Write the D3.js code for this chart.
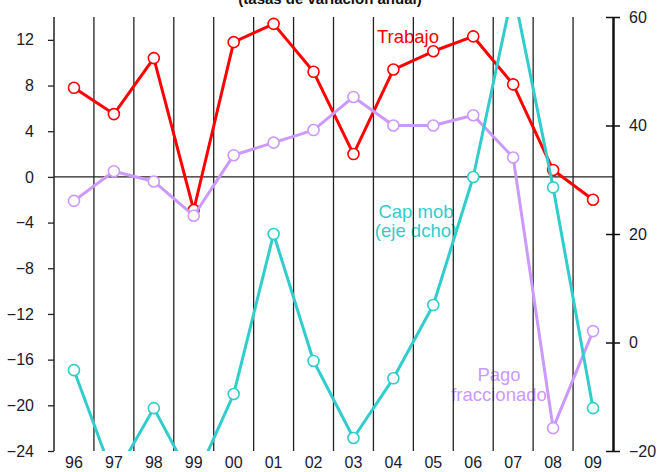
<!DOCTYPE html>
<html>
<head>
<meta charset="utf-8">
<script src="https://cdn.jsdelivr.net/npm/d3@7"></script>
<style>
  body { margin: 0; background: #fff; }
  svg { font-family: "Liberation Sans", Arial, sans-serif; }
</style>
</head>
<body>
<div id="chart"></div>
<script>
// datos
const years = ['96', '97', '98', '99', '00', '01', '02', '03', '04', '05', '06', '07', '08', '09'];
const trabajo = [7.8, 5.5, 10.4, -2.9, 11.8, 13.4, 9.2, 2.0, 9.4, 11.0, 12.3, 8.1, 0.6, -2.0];
const pagoFrac = [-2.1, 0.5, -0.4, -3.4, 1.9, 3.0, 4.1, 7.0, 4.5, 4.5, 5.4, 1.7, -22.0, -13.5];
const capMob = [-5.1, -25, -12.1, -25.9, -9.5, 20.0, -3.4, -17.6, -6.6, 6.9, 30.5, 65, 28.6, -12.1];
const leftTicks = [12, 8, 4, 0, -4, -8, -12, -16, -20, -24];
const rightTicks = [60, 40, 20, 0, -20];

const width = 658, height = 472;
const plotL = 54, plotR = 613, plotT = 17, plotB = 451;
const tickFont = 16, labelFont = 18.5;

const svg = d3.select('#chart').append('svg')
  .attr('width', width).attr('height', height);

const x = d3.scaleBand().domain(years).range([plotL, plotR]);
const yL = d3.scaleLinear().domain([-24, 14]).range([plotB, plotT]);
const yR = d3.scaleLinear().domain([-20, 60]).range([plotB, plotT]);

svg.append('defs').append('clipPath').attr('id', 'plot')
  .append('rect').attr('x', plotL).attr('y', plotT)
  .attr('width', plotR - plotL).attr('height', plotB - plotT);

// titulo (cortado arriba, como en el original)
svg.append('text')
  .attr('x', 330).attr('y', 4)
  .attr('text-anchor', 'middle')
  .attr('font-size', 15).attr('font-weight', 'bold')
  .attr('fill', '#111')
  .text('(tasas de variación anual)');

// etiquetas de series (debajo de la rejilla)
const labels = [
  {t: 'Trabajo', x: 408, y: 43, c: '#ff0000'},
  {t: 'Cap mob', x: 416, y: 218, c: '#33cccc'},
  {t: '(eje dcho)', x: 416, y: 237, c: '#33cccc'},
  {t: 'Pago', x: 499, y: 381, c: '#cc99ff'},
  {t: 'fraccionado', x: 499, y: 401, c: '#cc99ff'},
];
svg.append('g').selectAll('text').data(labels).join('text')
  .attr('x', d => d.x).attr('y', d => d.y)
  .attr('text-anchor', 'middle')
  .attr('font-size', labelFont)
  .attr('fill', d => d.c)
  .text(d => d.t);

// rejilla vertical entre categorias
svg.append('g').selectAll('line').data(years.slice(1)).join('line')
  .attr('x1', d => x(d)).attr('x2', d => x(d))
  .attr('y1', plotT).attr('y2', plotB)
  .attr('stroke', '#222').attr('stroke-width', 1.3);

// linea de cero
svg.append('line')
  .attr('x1', plotL).attr('x2', plotR)
  .attr('y1', yL(0)).attr('y2', yL(0))
  .attr('stroke', '#222').attr('stroke-width', 1.3);

// eje izquierdo
const axL = svg.append('g').attr('transform', `translate(${plotL},0)`)
  .call(d3.axisLeft(yL).tickValues(leftTicks).tickSize(6).tickSizeOuter(0).tickPadding(14));
axL.select('.domain').attr('stroke', '#222').attr('stroke-width', 1.5)
  .attr('d', `M0,${plotT}V${plotB}`);
axL.selectAll('line').attr('stroke', '#222').attr('stroke-width', 1.3);
axL.selectAll('text').attr('font-size', tickFont).attr('fill', '#1a1a2e')
  .attr('font-family', '"Liberation Sans", Arial, sans-serif');

// eje derecho (marcas cruzadas)
const axR = svg.append('g').attr('transform', `translate(${plotR},0)`)
  .call(d3.axisRight(yR).tickValues(rightTicks).tickSize(7).tickSizeOuter(0).tickPadding(9));
axR.select('.domain').attr('stroke', '#111').attr('stroke-width', 2.5);
axR.selectAll('.tick line').attr('x1', -7).attr('stroke', '#111').attr('stroke-width', 1.5);
axR.selectAll('text').attr('font-size', tickFont).attr('fill', '#1a1a2e')
  .attr('font-family', '"Liberation Sans", Arial, sans-serif');

// eje x
const axX = svg.append('g').attr('transform', `translate(0,${plotB})`)
  .call(d3.axisBottom(x).tickSize(0).tickPadding(6));
axX.select('.domain').remove();
axX.selectAll('text').attr('font-size', tickFont).attr('fill', '#1a1a2e')
  .attr('font-family', '"Liberation Sans", Arial, sans-serif');

// series
const series = [
  {vals: trabajo, y: yL, c: '#ff0000'},
  {vals: pagoFrac, y: yL, c: '#cc99ff'},
  {vals: capMob, y: yR, c: '#33cccc'},
];
const plot = svg.append('g').attr('clip-path', 'url(#plot)');
series.forEach(s => {
  const cx = (d, i) => x(years[i]) + x.bandwidth() / 2;
  const line = d3.line().x((d, i) => cx(d, i)).y(d => s.y(d));
  plot.append('path').datum(s.vals)
    .attr('d', line)
    .attr('fill', 'none').attr('stroke', s.c).attr('stroke-width', 3)
    .attr('stroke-linejoin', 'round');
  plot.append('g').selectAll('circle').data(s.vals).join('circle')
    .attr('cx', cx).attr('cy', d => s.y(d)).attr('r', 5.5)
    .attr('fill', '#fff').attr('stroke', s.c).attr('stroke-width', 1.6);
});
</script>
</body>
</html>
